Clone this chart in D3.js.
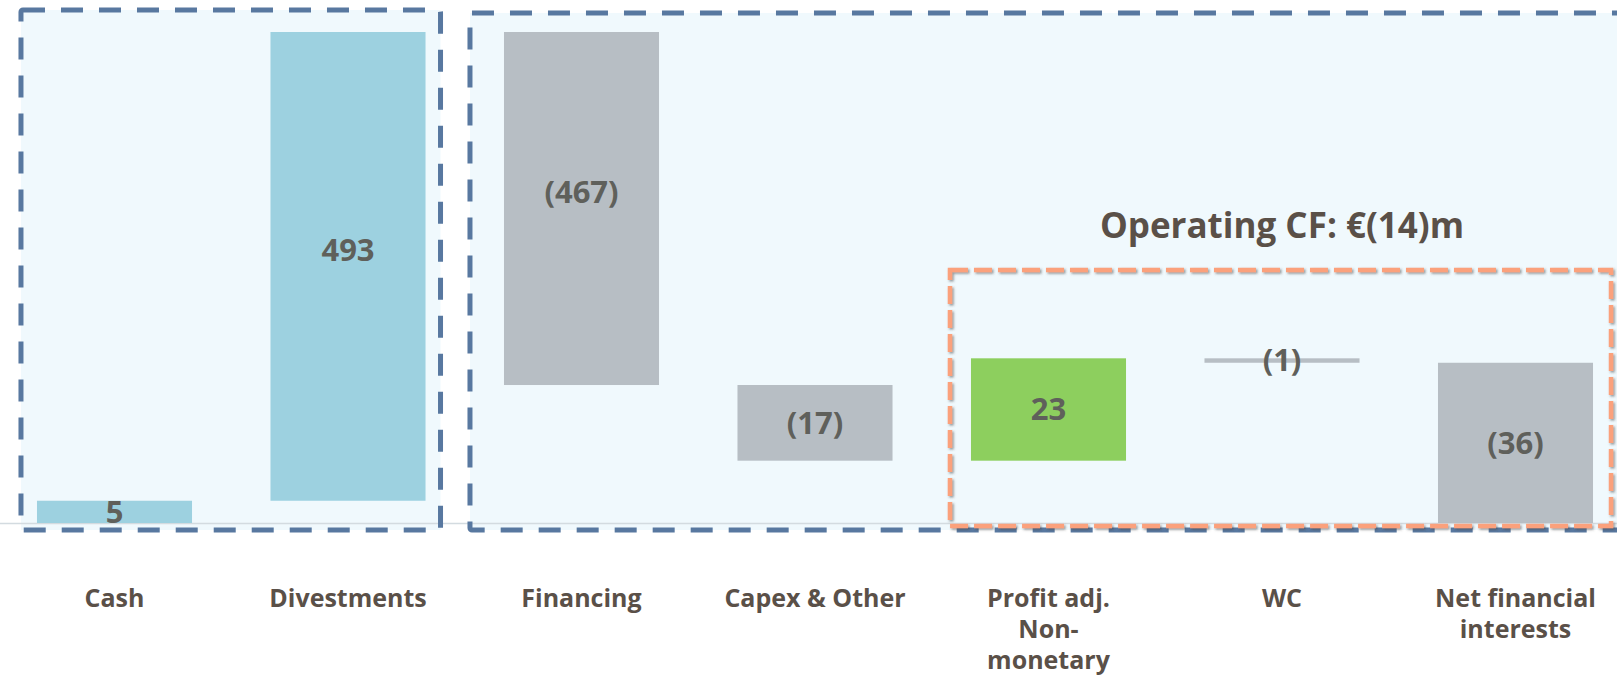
<!DOCTYPE html>
<html>
<head>
<meta charset="utf-8">
<script src="https://cdn.jsdelivr.net/npm/d3@7"></script>
<style>
    html, body { margin: 0; padding: 0; background: #ffffff; }
    svg { display: block; font-family: "Open Sans", "Noto Sans", sans-serif; }
</style>
</head>
<body>
<svg id="chart" width="1617" height="677"></svg>
<script>
// categories shown under the axis
const categories = ["Cash", "Divestments", "Financing", "Capex & Other", "Profit adj. Non-monetary", "WC", "Net financial interests"];

// tick labels, already broken into lines
const tickLabels = [["Cash"], ["Divestments"], ["Financing"], ["Capex & Other"], ["Profit adj.", "Non-", "monetary"], ["WC"], ["Net financial", "interests"]];

// cash flow steps in €m (first one is the opening cash)
const steps = [5, 493, -467, -17, 23, -1, -36];

// headline over the operating block
const operatingTitle = "Operating CF: €(14)m";

const svg = d3.select("#chart");
const W = 1617, H = 677;
const axisY = 523;      // zero line
const plotTop = 32;     // bars are cut here (broken axis)

//building the waterfall start / end for every step
let running = 0;
const bars = steps.map((v, i) => {
    const start = running;
    running += v;
    return { cat: categories[i], lines: tickLabels[i], value: v, start: start, end: running, i: i };
});

//x scale: one band per category
const x = d3.scaleBand()
    .domain(categories)
    .range([-2.25, 1632.25])
    .paddingInner(0.336)
    .paddingOuter(0.168);

//y scale: small values readable, big ones clamped at the top
const y = d3.scaleLinear()
    .domain([0, 117.5])
    .range([axisY, 0])
    .clamp(true);

const blue = "#9dd1e0", grey = "#b7bec4", green = "#8dcf5e";
const barColor = d => d.i < 2 ? blue : (d.value > 0 ? green : grey);
const fmt = v => v < 0 ? "(" + Math.abs(v) + ")" : String(v);

const defs = svg.append("defs");
defs.append("clipPath").attr("id", "plotClip")
    .append("rect").attr("x", 0).attr("y", plotTop).attr("width", W).attr("height", H);
const shadow = defs.append("filter").attr("id", "shadow")
    .attr("x", "-5%").attr("y", "-5%").attr("width", "110%").attr("height", "110%");
shadow.append("feDropShadow")
    .attr("dx", 1.5).attr("dy", 1.5).attr("stdDeviation", 1.2)
    .attr("flood-color", "#444").attr("flood-opacity", 0.55);

//group boxes, placed from the bands they wrap
const bw = x.bandwidth();
const leftBox = { x0: x(categories[0]) - 16, x1: x(categories[1]) + bw + 15, y0: 10, y1: 530 };
const rightBox = { x0: x(categories[2]) - 34, x1: W + 10, y0: 13, y1: 530 };
const opBox = { x0: x(categories[4]) - 21, x1: x(categories[6]) + bw + 18, y0: 270, y1: 526 };

[leftBox, rightBox].forEach(b => {
    svg.append("rect")
        .attr("x", b.x0).attr("y", b.y0)
        .attr("width", b.x1 - b.x0).attr("height", b.y1 - b.y0)
        .attr("fill", "#f0f9fd");
});

//zero line
svg.append("line")
    .attr("x1", 0).attr("x2", W)
    .attr("y1", axisY + 0.5).attr("y2", axisY + 0.5)
    .attr("stroke", "#d3dbe0").attr("stroke-width", 1.5);

//bars
const gBars = svg.append("g").attr("clip-path", "url(#plotClip)");
gBars.selectAll("rect")
    .data(bars)
    .enter().append("rect")
    .attr("x", d => x(d.cat))
    .attr("y", d => y(Math.max(d.start, d.end)))
    .attr("width", bw)
    .attr("height", d => Math.max(4, y(Math.min(d.start, d.end)) - y(Math.max(d.start, d.end))))
    .attr("fill", barColor);

//dashed outlines of the groups
[leftBox, rightBox].forEach(b => {
    svg.append("rect")
        .attr("x", b.x0).attr("y", b.y0)
        .attr("width", b.x1 - b.x0).attr("height", b.y1 - b.y0)
        .attr("rx", 2)
        .attr("fill", "none")
        .attr("stroke", "#5878a0")
        .attr("stroke-width", 5)
        .attr("stroke-dasharray", "22,16");
});

svg.append("rect")
    .attr("x", opBox.x0).attr("y", opBox.y0)
    .attr("width", opBox.x1 - opBox.x0).attr("height", opBox.y1 - opBox.y0)
    .attr("fill", "none")
    .attr("stroke", "#fba17c")
    .attr("stroke-width", 4.5)
    .attr("stroke-dasharray", "18,6")
    .attr("filter", "url(#shadow)");

//value labels in the middle of each bar
svg.append("g").selectAll("text")
    .data(bars)
    .enter().append("text")
    .attr("x", d => x(d.cat) + bw / 2)
    .attr("y", d => (y(d.start) + y(d.end)) / 2)
    .attr("dy", "0.35em")
    .attr("text-anchor", "middle")
    .attr("font-size", 31)
    .attr("font-weight", 700)
    .attr("fill", "#5f605b")
    .text(d => fmt(d.value));

//category labels under the axis
const gTicks = svg.append("g");
bars.forEach(d => {
    const t = gTicks.append("text")
        .attr("x", x(d.cat) + bw / 2)
        .attr("y", 607)
        .attr("text-anchor", "middle")
        .attr("font-size", 25)
        .attr("font-weight", 700)
        .attr("fill", "#5a5048");
    d.lines.forEach((ln, k) => {
        t.append("tspan")
            .attr("x", x(d.cat) + bw / 2)
            .attr("dy", k === 0 ? 0 : 31)
            .text(ln);
    });
});

//operating cash flow headline over the WC bar
svg.append("text")
    .attr("x", x(categories[5]) + bw / 2)
    .attr("y", 238)
    .attr("text-anchor", "middle")
    .attr("font-size", 35)
    .attr("font-weight", 700)
    .attr("fill", "#5a5048")
    .text(operatingTitle);
</script>
</body>
</html>
